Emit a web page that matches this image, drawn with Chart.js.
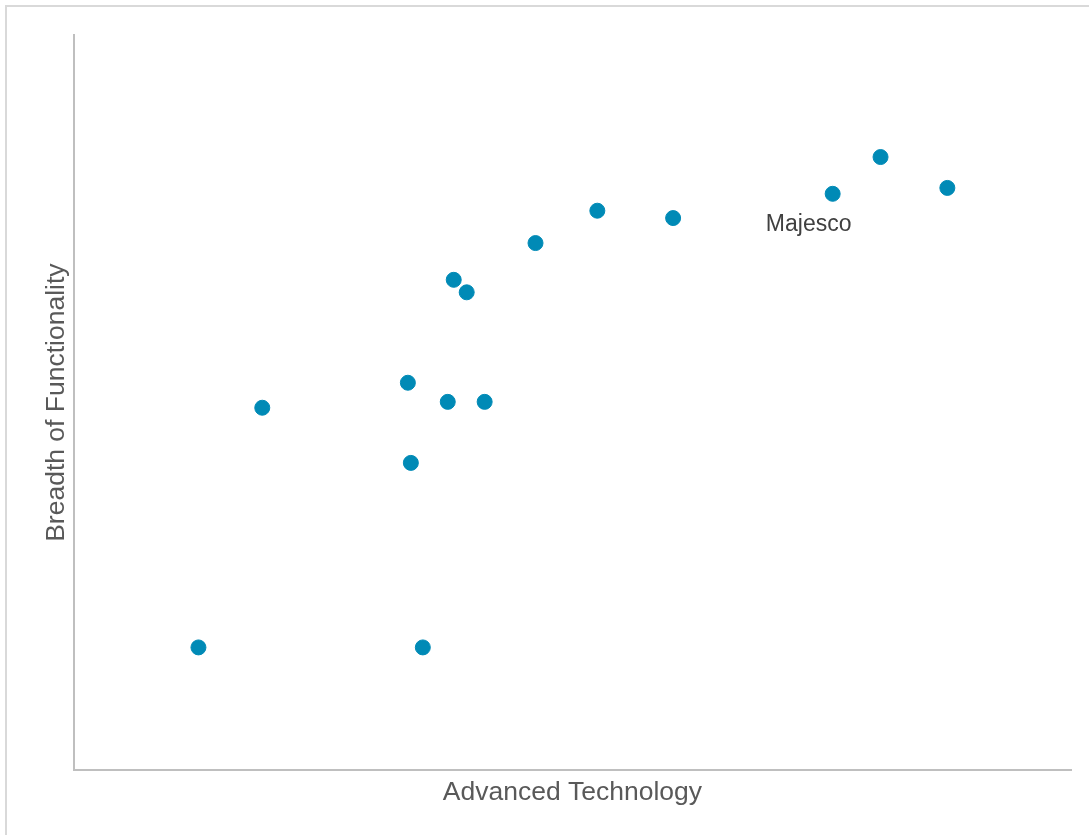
<!DOCTYPE html>
<html>
<head>
<meta charset="utf-8">
<script src="https://cdn.jsdelivr.net/npm/chart.js@4"></script>
<style>
  body { margin: 0; background: #fff; }
  #frame { position: absolute; left: 5px; top: 5px; width: 1100px; height: 850px; border: 2px solid #D9D9D9; box-sizing: border-box; }
  #wrap { position: absolute; left: 0; top: 0; width: 1089px; height: 835px; }
</style>
</head>
<body>
<div id="frame"></div>
<div id="wrap"><canvas id="chart"></canvas></div>
<script>
// vendor positions: x = advanced technology, y = breadth of functionality
const techScores = [12.5, 18.9, 33.5, 33.8, 35.0, 37.5, 41.2, 38.1, 39.4, 46.3, 52.5, 60.1, 76.1, 80.9, 87.6];
const breadthScores = [16.7, 49.3, 52.7, 41.8, 16.7, 50.1, 50.1, 66.7, 65.0, 71.7, 76.1, 75.1, 78.4, 83.4, 79.2];
const vendorLabels = ['', '', '', '', '', '', '', '', '', '', '', '', 'Majesco', '', ''];

const xTitle = 'Advanced Technology';
const yTitle = 'Breadth of Functionality';

let points = [];
for (let i = 0; i < techScores.length; i++) {
    points.push({x: techScores[i], y: breadthScores[i]});
}

// draws the one vendor name under its dot
const labelPlugin = {
    id: 'vendorLabels',
    afterDatasetsDraw(chart) {
        const ctx = chart.ctx;
        const meta = chart.getDatasetMeta(0);
        ctx.save();
        ctx.font = '23px "Liberation Sans", Arial, sans-serif';
        ctx.fillStyle = '#404040';
        ctx.textAlign = 'center';
        ctx.textBaseline = 'middle';
        meta.data.forEach(function(pt, i) {
            if (vendorLabels[i]) {
                ctx.fillText(vendorLabels[i], pt.x - 24, pt.y + 31);
            }
        });
        ctx.restore();
    }
};

const axisFont = {family: '"Liberation Sans", Arial, sans-serif', size: 26.5};

new Chart(document.getElementById('chart'), {
    type: 'scatter',
    data: {
        datasets: [{
            data: points,
            backgroundColor: '#008AB6',
            borderColor: '#008AB6',
            pointRadius: 7.5,
            pointHoverRadius: 7.5
        }]
    },
    options: {
        responsive: true,
        maintainAspectRatio: false,
        animation: false,
        layout: {padding: {left: 37, right: 18, top: 35, bottom: 22}},
        plugins: {
            legend: {display: false},
            tooltip: {enabled: false}
        },
        scales: {
            x: {
                min: 0, max: 100,
                grid: {display: false, drawTicks: false},
                border: {display: true, color: '#BFBFBF', width: 2},
                ticks: {display: false},
                title: {display: true, text: xTitle, color: '#595959', font: axisFont, padding: {top: 7, bottom: 4}}
            },
            y: {
                min: 0, max: 100,
                grid: {display: false, drawTicks: false},
                border: {display: true, color: '#BFBFBF', width: 2},
                ticks: {display: false},
                title: {display: true, text: yTitle, color: '#595959', font: axisFont, padding: {top: 4, bottom: 1}}
            }
        }
    },
    plugins: [labelPlugin]
});
</script>
</body>
</html>
